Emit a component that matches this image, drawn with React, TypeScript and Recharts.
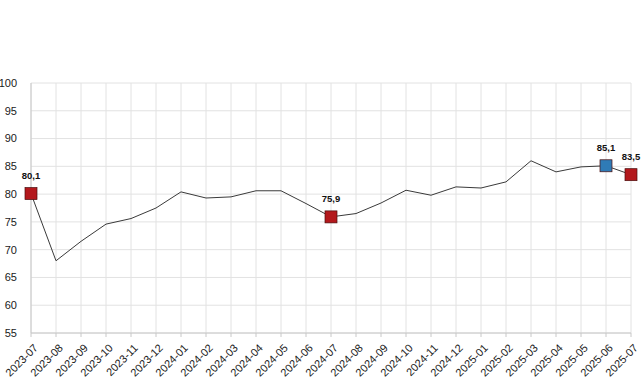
import { LineChart, Line, XAxis, YAxis, CartesianGrid } from "recharts";

const months = [
  "2023-07", "2023-08", "2023-09", "2023-10", "2023-11", "2023-12",
  "2024-01", "2024-02", "2024-03", "2024-04", "2024-05", "2024-06",
  "2024-07", "2024-08", "2024-09", "2024-10", "2024-11", "2024-12",
  "2025-01", "2025-02", "2025-03", "2025-04", "2025-05", "2025-06", "2025-07",
];

const values = [
  80.1, 68.0, 71.5, 74.6, 75.6, 77.5,
  80.4, 79.3, 79.5, 80.6, 80.6, 78.3,
  75.9, 76.5, 78.4, 80.7, 79.8, 81.3,
  81.1, 82.2, 86.0, 84.0, 84.9, 85.1, 83.5,
];

const yTicks = [55, 60, 65, 70, 75, 80, 85, 90, 95, 100];

// highlighted points: month -> colour
const highlights: Record<string, string> = {
  "2023-07": "#b3181c",
  "2024-07": "#b3181c",
  "2025-06": "#2f7bb6",
  "2025-07": "#b3181c",
};

const data = months.map((m, i) => ({ month: m, value: values[i] }));

const font = "'Liberation Sans', Arial, sans-serif";

function Dot(props: any) {
  const { cx, cy, payload } = props;
  const color = highlights[payload.month];
  if (!color) return <g key={payload.month} />;
  return (
    <g key={payload.month}>
      <rect x={cx - 6} y={cy - 6} width={12} height={12} fill={color} stroke="#4a0d0d" strokeWidth={0.7} />
      <text x={cx} y={cy - 15} textAnchor="middle" fontSize={9.5} fontWeight="bold" fill="#111" fontFamily={font}>
        {payload.value.toFixed(1).replace(".", ",")}
      </text>
    </g>
  );
}

function XTick(props: any) {
  const { x, y, payload } = props;
  return (
    <g transform={`translate(${x + 2},${y + 4})`}>
      <text x={0} y={0} dy={8} textAnchor="end" transform="rotate(-45)" fontSize={11} fill="#1a1a1a" fontFamily={font}>
        {payload.value}
      </text>
    </g>
  );
}

export default function App() {
  return (
    <div style={{ position: "absolute", left: 0, top: 0, width: 641, height: 380, background: "#fff" }}>
      <LineChart width={641} height={380} data={data} margin={{ top: 83, right: 10, bottom: 0, left: 0 }}>
        <CartesianGrid stroke="#e2e2e2" />
        <XAxis
          dataKey="month"
          interval={0}
          height={47}
          tick={<XTick />}
          stroke="#c8c8c8"
          tickSize={4}
        />
        <YAxis
          domain={[55, 100]}
          ticks={yTicks}
          width={31}
          stroke="#c8c8c8"
          tickLine={false}
          tickMargin={8}
          tick={{ fontSize: 11, fill: "#1a1a1a", fontFamily: font }}
        />
        <Line
          type="linear"
          dataKey="value"
          stroke="#3a3a3a"
          strokeWidth={1}
          dot={<Dot />}
          activeDot={false}
          isAnimationActive={false}
        />
      </LineChart>
    </div>
  );
}
